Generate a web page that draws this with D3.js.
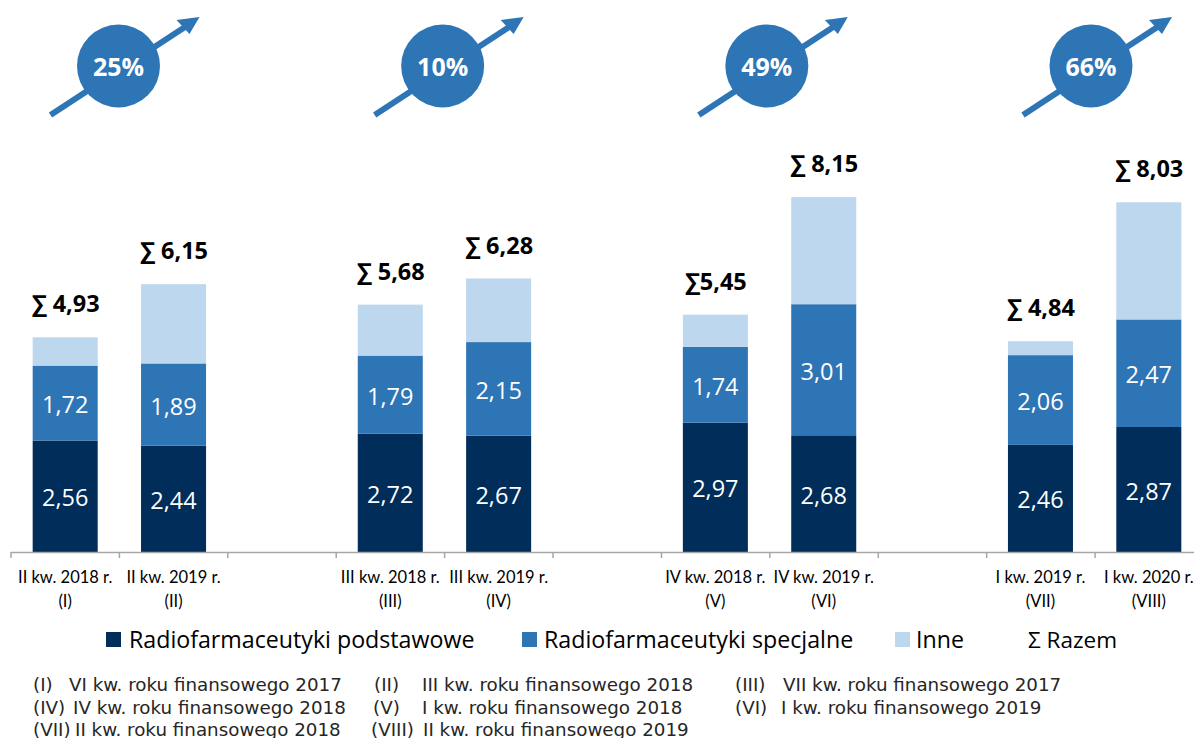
<!DOCTYPE html>
<html>
<head>
<meta charset="utf-8">
<script src="https://cdn.jsdelivr.net/npm/d3@7"></script>
<style>
  html, body { margin: 0; padding: 0; background: #fff; overflow: hidden; }
  text { font-family: "Open Sans", sans-serif; }
</style>
</head>
<body>
<div id="chart"></div>
<script>
const width = 1194;
const height = 738;

// slots on the axis, the "gap" ones stay empty
const slots = ["I", "II", "gap1", "III", "IV", "gap2", "V", "VI", "gap3", "VII", "VIII"];
const periods = ["I", "II", "III", "IV", "V", "VI", "VII", "VIII"];
const quarters = ["II kw. 2018 r.", "II kw. 2019 r.", "III kw. 2018 r.", "III kw. 2019 r.",
    "IV kw. 2018 r.", "IV kw. 2019 r.", "I kw. 2019 r.", "I kw. 2020 r."];

const basic = [2.56, 2.44, 2.72, 2.67, 2.97, 2.68, 2.46, 2.87];
const special = [1.72, 1.89, 1.79, 2.15, 1.74, 3.01, 2.06, 2.47];
const other = [0.65, 1.82, 1.17, 1.46, 0.74, 2.46, 0.32, 2.69];
const totals = ["∑ 4,93", "∑ 6,15", "∑ 5,68", "∑ 6,28", "∑5,45", "∑ 8,15", "∑ 4,84", "∑ 8,03"];
const totalValues = [4.93, 6.15, 5.68, 6.28, 5.45, 8.15, 4.84, 8.03];

const growth = ["25%", "10%", "49%", "66%"];

const seriesNames = ["Radiofarmaceutyki podstawowe", "Radiofarmaceutyki specjalne", "Inne"];
const seriesColors = ["#002d59", "#2e75b6", "#bdd7ee"];

const notes = [
    ["(I)", "VI kw. roku finansowego 2017", 33, 69, 691],
    ["(II)", "III kw. roku finansowego 2018", 374, 422, 691],
    ["(III)", "VII kw. roku finansowego 2017", 735, 783, 691],
    ["(IV)", "IV kw. roku finansowego 2018", 33, 73, 714],
    ["(V)", "I kw. roku finansowego 2018", 373, 422, 714],
    ["(VI)", "I kw. roku finansowego 2019", 735, 781, 714],
    ["(VII)", "II kw. roku finansowego 2018", 33, 75, 736],
    ["(VIII)", "II kw. roku finansowego 2019", 371, 423, 736]
];

const baseY = 552;

const svg = d3.select("#chart").append("svg")
    .attr("width", width)
    .attr("height", height)
    .style("display", "block");

const x = d3.scaleBand()
    .domain(slots)
    .range([11, 1203])
    .paddingInner(0.4)
    .paddingOuter(0.2);

// edges of the slots, for the tick marks
const xEdge = d3.scaleLinear()
    .domain([0, slots.length])
    .range([10.5, 1203]);

const y = d3.scaleLinear()
    .domain([0, 10])
    .range([baseY, baseY - 435.5]);

// the badges are spaced a bit tighter than the bar pairs
const xBadge = d3.scalePoint()
    .domain(growth)
    .range([118.5, 1091]);

// MAKING STACKED BARS

const rows = periods.map((p, i) => ({period: p, basic: basic[i], special: special[i], other: other[i]}));
const stacked = d3.stack().keys(["basic", "special", "other"])(rows);

svg.append("g").selectAll("g")
    .data(stacked)
    .enter()
    .append("g")
    .attr("fill", (d, i) => seriesColors[i])
    .selectAll("rect")
    .data(d => d)
    .enter()
    .append("rect")
    .attr("x", d => x(d.data.period))
    .attr("width", x.bandwidth())
    .attr("y", d => y(d[1]))
    .attr("height", d => y(d[0]) - y(d[1]));

// value labels inside the two lower segments
stacked.slice(0, 2).forEach(s => {
    svg.append("g").selectAll("text")
        .data(s)
        .enter()
        .append("text")
        .attr("x", d => x(d.data.period) + x.bandwidth() / 2)
        .attr("y", d => (y(d[0]) + y(d[1])) / 2 + 10)
        .attr("text-anchor", "middle")
        .attr("fill", "#fff")
        .style("font-size", "23.5px")
        .text(d => (d[1] - d[0]).toFixed(2).replace(".", ","));
});

// sums above the bars
svg.append("g").selectAll("text")
    .data(totals)
    .enter()
    .append("text")
    .attr("x", (d, i) => x(periods[i]) + x.bandwidth() / 2 + 0.5)
    .attr("y", (d, i) => y(totalValues[i]) - 25)
    .attr("text-anchor", "middle")
    .attr("fill", "#000")
    .style("font-size", "23.5px")
    .style("font-weight", "bold")
    .text(d => d);

// axis
const axis = svg.append("g")
    .attr("transform", `translate(0,${baseY})`)
    .call(d3.axisBottom(xEdge).tickValues(d3.range(slots.length + 1)).tickFormat("").tickSize(6).tickSizeOuter(0));
axis.selectAll("line,path").attr("stroke", "#a6a6a6").attr("stroke-width", 1.5);

const tickLabels = svg.append("g").selectAll("g")
    .data(periods)
    .enter()
    .append("g")
    .attr("transform", d => `translate(${x(d) + x.bandwidth() / 2},0)`)
    .attr("text-anchor", "middle")
    .attr("fill", "#000");

tickLabels.append("text")
    .attr("y", 583)
    .style("font-family", "Lato")
    .style("font-size", "16.5px")
    .text((d, i) => quarters[i]);
tickLabels.append("text")
    .attr("y", 607)
    .style("font-family", "Lato")
    .style("font-size", "16.5px")
    .text(d => `(${d})`);

// growth badges with arrows
const badges = svg.append("g").selectAll("g")
    .data(growth)
    .enter()
    .append("g")
    .attr("transform", d => `translate(${xBadge(d)},66)`);

badges.append("line")
    .attr("x1", -68).attr("y1", 49)
    .attr("x2", 68).attr("y2", -40)
    .attr("stroke", "#2e75b6")
    .attr("stroke-width", 6);

badges.append("path")
    .attr("d", "M81,-49 L58,-46 L71,-32 Z")
    .attr("fill", "#2e75b6");

badges.append("circle")
    .attr("r", 41.5)
    .attr("fill", "#2e75b6");

badges.append("text")
    .attr("y", 10)
    .attr("text-anchor", "middle")
    .attr("fill", "#fff")
    .style("font-size", "25px")
    .style("font-weight", "bold")
    .text(d => d);

// legend
const legendX = [106, 522, 895];
const legendTextX = [129, 544, 916];

seriesNames.forEach((name, i) => {
    svg.append("rect")
        .attr("x", legendX[i]).attr("y", 632)
        .attr("width", 15).attr("height", 15)
        .attr("fill", seriesColors[i]);
    svg.append("text")
        .attr("x", legendTextX[i]).attr("y", 648)
        .style("font-size", "23.2px")
        .text(name);
});
svg.append("text")
    .attr("x", 1028).attr("y", 648)
    .style("font-size", "22.5px")
    .text("Σ Razem");

// footnotes
const noteRows = svg.append("g")
    .attr("fill", "#262626")
    .style("font-size", "18.3px");

noteRows.selectAll("text.mark")
    .data(notes)
    .enter()
    .append("text")
    .attr("class", "mark")
    .attr("x", d => d[2])
    .attr("y", d => d[4])
    .style("font-family", "'DejaVu Sans'")
    .text(d => d[0]);

noteRows.selectAll("text.desc")
    .data(notes)
    .enter()
    .append("text")
    .attr("class", "desc")
    .attr("x", d => d[3])
    .attr("y", d => d[4])
    .style("font-family", "'DejaVu Sans'")
    .text(d => d[1]);
</script>
</body>
</html>
